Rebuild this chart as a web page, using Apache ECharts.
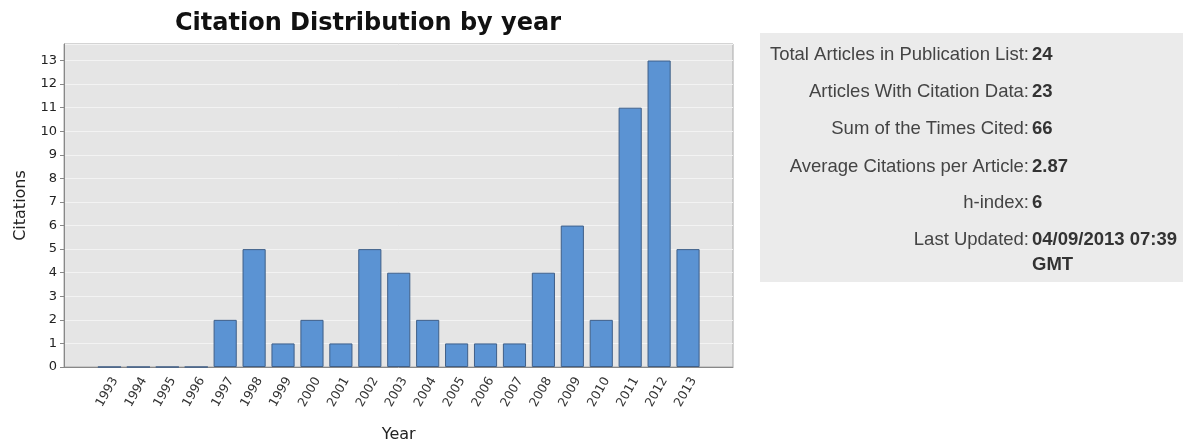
<!DOCTYPE html>
<html>
<head>
<meta charset="utf-8">
<script src="https://cdn.jsdelivr.net/npm/echarts@6/dist/echarts.min.js"></script>
<style>
html,body{margin:0;padding:0;background:#fff;}
#chart{width:1186px;height:446px;}
</style>
</head>
<body>
<div id="chart"></div>
<script>
const years = ['1993','1994','1995','1996','1997','1998','1999','2000','2001','2002','2003','2004','2005','2006','2007','2008','2009','2010','2011','2012','2013'];
const citations = [0,0,0,0,2,5,1,2,1,5,4,2,1,1,1,4,6,2,11,13,5];
const chartTitle = 'Citation Distribution by year';
const statLabels = ['Total Articles in Publication List:','Articles With Citation Data:','Sum of the Times Cited:','Average Citations per Article:','h-index:','Last Updated:'];
const statValues = ['24','23','66','2.87','6','04/09/2013 07:39\nGMT'];

const yMax = 13.7;
const chart = echarts.init(document.getElementById('chart'));

const graphics = [
  {type:'text', style:{text:chartTitle, x:368, y:24, align:'center', verticalAlign:'middle',
    font:'bold 24px "DejaVu Sans"', fill:'#111'}},
  {type:'rect', shape:{x:760, y:33, width:423, height:249}, style:{fill:'#ebebeb'}, z:-1}
];
const rowY = [55, 92, 129, 167, 203, 240];
statLabels.forEach((t,i)=>{
  graphics.push({type:'text', style:{text:t, x:1029, y:rowY[i], align:'right', verticalAlign:'middle',
    font:'18.5px "Liberation Sans"', fill:'#444'}});
  statValues[i].split('\n').forEach((line,k)=>{
    graphics.push({type:'text', style:{text:line, x:1032, y:rowY[i]+25*k, align:'left', verticalAlign:'middle',
      font:'bold 18.5px "Liberation Sans"', fill:'#333'}});
  });
});

chart.setOption({
  animation:false,
  backgroundColor:'#ffffff',
  graphic: graphics,
  grid:[
    {left:64, top:44, width:669, height:323, show:true, backgroundColor:'#e5e5e5', borderColor:'#a8a8a8', borderWidth:1,
      containLabel:false, outerBoundsMode:'none'},
    {left:95, top:44, width:607.5, height:323, containLabel:false, outerBoundsMode:'none'}
  ],
  xAxis:[
    {type:'value', gridIndex:0, min:0, max:1, axisLabel:{show:false}, axisTick:{show:false}, splitLine:{show:false},
      axisLine:{show:true, lineStyle:{color:'#888', width:1}}},
    {type:'category', gridIndex:1, data:years, boundaryGap:true,
      axisLine:{show:false}, axisTick:{show:false},
      axisLabel:{rotate:60, fontSize:12.5, fontFamily:'DejaVu Sans', color:'#333', margin:8, interval:0, verticalAlign:'top'},
      name:'Year', nameLocation:'middle', nameGap:60,
      nameTextStyle:{fontSize:16, fontFamily:'DejaVu Sans', color:'#222'}}
  ],
  yAxis:[
    {type:'value', gridIndex:0, min:0, max:yMax, interval:1,
      axisLine:{show:true, lineStyle:{color:'#888'}},
      axisTick:{show:true, length:4, lineStyle:{color:'#888'}},
      axisLabel:{fontSize:13, fontFamily:'DejaVu Sans', color:'#222', margin:7, showMaxLabel:false,
        formatter:v => (Math.abs(v-Math.round(v))<1e-6 ? String(Math.round(v)) : '')},
      splitLine:{show:true, lineStyle:{color:'#f3f3f3', width:1}},
      name:'Citations', nameLocation:'middle', nameGap:35,
      nameTextStyle:{fontSize:16, fontFamily:'DejaVu Sans', color:'#222'}},
    {type:'value', gridIndex:1, min:0, max:yMax, interval:1, show:false, splitLine:{show:false}}
  ],
  series:[{
    type:'bar', xAxisIndex:1, yAxisIndex:1, data:citations, barCategoryGap:'20%',
    itemStyle:{color:'#5b93d3', borderColor:'#3f5f88', borderWidth:1}
  }]
});
</script>
</body>
</html>
